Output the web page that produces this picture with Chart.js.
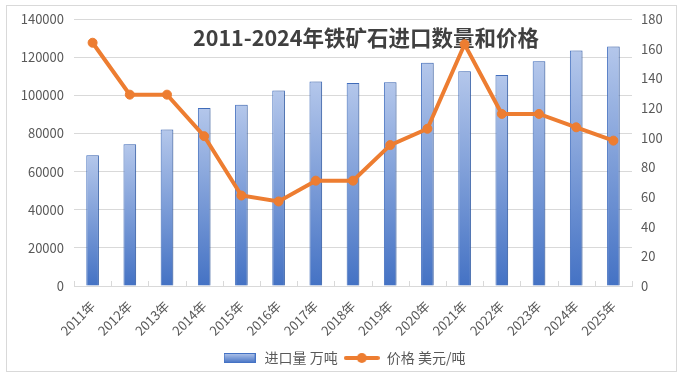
<!DOCTYPE html>
<html><head><meta charset="utf-8">
<script src="https://cdn.jsdelivr.net/npm/chart.js@4.4.1/dist/chart.umd.min.js"></script>
<style>html,body{margin:0;padding:0;background:#fff}#wrap{width:687px;height:383px;position:relative}</style>
</head><body><div id="wrap"><canvas id="c" width="687" height="383"></canvas></div>
<script>
const categories = ['2011年','2012年','2013年','2014年','2015年','2016年','2017年','2018年','2019年','2020年','2021年','2022年','2023年','2024年','2025年'];
const importVolume = [68600, 74300, 82000, 93300, 95000, 102500, 107200, 106400, 106900, 117000, 112600, 110700, 117900, 123500, 125600];
const price = [164, 129, 129, 101, 61, 57, 71, 71, 95, 106, 163, 116, 116, 107, 98];
const titleText = '2011-2024年铁矿石进口数量和价格';
const seriesNames = ['进口量 万吨', '价格 美元/吨'];
const leftAxis = {min: 0, max: 140000, step: 20000};
const rightAxis = {min: 0, max: 180, step: 20};

const BLUE = '#4472c4', BLUE_LIGHT = '#b4c7eb', ORANGE = '#ed7d31', TXT = '#595959', GRID = '#d9d9d9';
const FONT = '"Noto Sans CJK SC", "Noto Sans", sans-serif';

function makeBarIcon() {
  const c = document.createElement('canvas'); c.width = 32; c.height = 10;
  const x = c.getContext('2d');
  const g = x.createLinearGradient(0, 0, 0, 10); g.addColorStop(0, BLUE_LIGHT); g.addColorStop(1, BLUE);
  x.fillStyle = g; x.fillRect(0, 0, 32, 10);
  x.strokeStyle = BLUE; x.lineWidth = 1; x.strokeRect(0.5, 0.5, 31, 9);
  return c;
}
function makeLineIcon() {
  const c = document.createElement('canvas'); c.width = 36; c.height = 12;
  const x = c.getContext('2d');
  x.strokeStyle = ORANGE; x.lineWidth = 4; x.lineCap = 'round';
  x.beginPath(); x.moveTo(2, 6); x.lineTo(34, 6); x.stroke();
  x.fillStyle = ORANGE; x.beginPath(); x.arc(18, 6, 5, 0, Math.PI * 2); x.fill();
  return c;
}
const barIcon = makeBarIcon(), lineIcon = makeLineIcon();

const framePlugin = {
  id: 'frame',
  beforeDraw(chart) {
    const ctx = chart.ctx;
    ctx.save();
    ctx.fillStyle = '#fff'; ctx.fillRect(0, 0, chart.width, chart.height);
    ctx.strokeStyle = GRID; ctx.lineWidth = 1;
    ctx.strokeRect(6.5, 5.5, 670, 366);
    ctx.restore();
  },
  beforeDatasetsDraw(chart) {
    const ctx = chart.ctx, a = chart.chartArea, xs = chart.scales.x;
    ctx.save();
    ctx.strokeStyle = GRID; ctx.lineWidth = 1;
    const n = xs.ticks.length, w = (a.right - a.left) / n;
    for (let i = 0; i <= n; i++) {
      const px = Math.round(a.left + i * w) + 0.5;
      ctx.beginPath(); ctx.moveTo(px, a.bottom - 5); ctx.lineTo(px, a.bottom); ctx.stroke();
    }
    ctx.fillStyle = '#404040';
    ctx.font = 'bold 21.5px ' + FONT;
    ctx.textAlign = 'center'; ctx.textBaseline = 'middle';
    ctx.fillText(titleText, 366, 38);
    ctx.restore();
  }
};

const shadowPlugin = {
  id: 'barShadow',
  beforeDatasetDraw(chart, args) {
    if (args.meta.type !== 'bar') return;
    const ctx = chart.ctx; ctx.save();
    ctx.shadowColor = 'rgba(0,0,0,0.18)'; ctx.shadowBlur = 4; ctx.shadowOffsetX = 2;
  },
  afterDatasetDraw(chart, args) {
    if (args.meta.type !== 'bar') return;
    chart.ctx.restore();
  }
};

function barFill(c) {
  const ch = c.chart, ys = ch.scales.y;
  if (!ys || c.raw == null) return BLUE;
  const top = ys.getPixelForValue(c.raw), bot = ys.getPixelForValue(0);
  if (!isFinite(top) || !isFinite(bot) || top === bot) return BLUE;
  const g = ch.ctx.createLinearGradient(0, top, 0, bot);
  g.addColorStop(0, BLUE_LIGHT); g.addColorStop(1, BLUE);
  return g;
}

new Chart(document.getElementById('c'), {
  data: {
    labels: categories,
    datasets: [
      { type: 'bar', label: seriesNames[0], data: importVolume, yAxisID: 'y', order: 1,
        backgroundColor: barFill, borderColor: BLUE, borderWidth: 1,
        barPercentage: 0.68, categoryPercentage: 0.5 },
      { type: 'line', label: seriesNames[1], data: price, yAxisID: 'y1', order: 0,
        borderColor: ORANGE, backgroundColor: ORANGE, borderWidth: 4,
        pointRadius: 4.5, pointHoverRadius: 4.5, pointBackgroundColor: ORANGE, pointBorderColor: ORANGE,
        pointBorderWidth: 1, tension: 0, fill: false }
    ]
  },
  options: {
    responsive: false, animation: false, devicePixelRatio: 1,
    layout: { padding: { top: 19, left: 0, right: 0, bottom: 8 } },
    plugins: {
      title: { display: false },
      tooltip: { enabled: false },
      legend: {
        position: 'bottom',
        labels: {
          usePointStyle: true, pointStyleWidth: 36, padding: 6, color: TXT,
          font: { size: 14, family: FONT },
          generateLabels(chart) {
            const items = Chart.defaults.plugins.legend.labels.generateLabels(chart);
            items.sort((a, b) => a.datasetIndex - b.datasetIndex);
            items.forEach(it => { it.pointStyle = it.datasetIndex === 0 ? barIcon : lineIcon; });
            return items;
          }
        }
      }
    },
    scales: {
      x: {
        offset: true,
        grid: { display: false },
        border: { display: true, color: GRID },
        ticks: { color: TXT, font: { size: 13, family: FONT }, maxRotation: 45, minRotation: 45, padding: 4, autoSkip: false },
        afterFit(s) { s.height = 59; }
      },
      y: {
        position: 'left', min: leftAxis.min, max: leftAxis.max,
        grid: { color: GRID, drawTicks: false },
        border: { display: false },
        ticks: { stepSize: leftAxis.step, color: TXT, font: { size: 13, family: FONT }, padding: 10,
                 callback: v => String(v) },
        afterFit(s) { s.width = 74; }
      },
      y1: {
        position: 'right', min: rightAxis.min, max: rightAxis.max,
        grid: { display: false, drawTicks: false },
        border: { display: false },
        ticks: { stepSize: rightAxis.step, color: TXT, font: { size: 13, family: FONT }, padding: 9,
                 callback: v => String(v) },
        afterFit(s) { s.width = 55; }
      }
    }
  },
  plugins: [framePlugin, shadowPlugin]
});
</script>
</body></html>
